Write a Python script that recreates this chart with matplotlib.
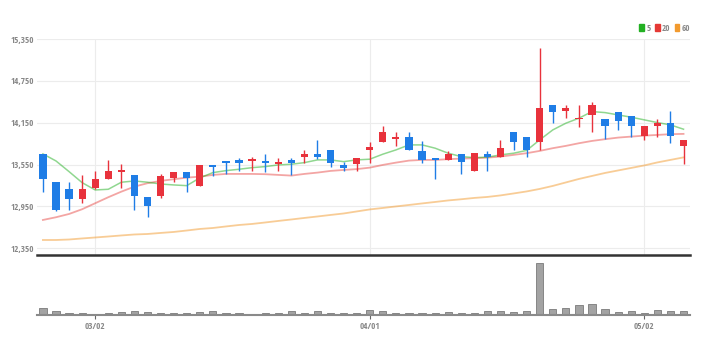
import numpy as np
import matplotlib
matplotlib.use('Agg')
import matplotlib.pyplot as plt
from matplotlib.patches import Patch

# daily candles (index = trading day)
opens  = [13700,13300,13200,13060,13210,13350,13450,13400,13090,13100,
          13360,13450,13250,13550,13600,13610,13600,13600,13560,13610,
          13660,13700,13760,13550,13560,13760,13870,13910,13950,13750,
          13640,13620,13700,13460,13700,13660,14010,13950,13870,14410,
          14320,14200,14260,14210,14310,14250,13960,14110,14150,13810]
closes = [13350,12900,13060,13200,13350,13460,13470,13100,12950,13390,
          13450,13360,13550,13510,13570,13570,13630,13570,13590,13570,
          13700,13660,13570,13500,13650,13800,14010,13950,13760,13610,
          13610,13700,13590,13720,13660,13790,13870,13760,14360,14300,
          14360,14220,14400,14100,14170,14100,14100,14150,13960,13900]
highs  = [13700,13300,13300,13400,13460,13610,13560,13400,13090,13410,
          13450,13450,13550,13550,13600,13650,13660,13700,13650,13650,
          13760,13900,13760,13590,13650,13870,14100,14010,14010,13890,
          13640,13740,13700,13720,13750,13900,14010,13950,15220,14410,
          14410,14410,14450,14210,14310,14250,14100,14200,14320,13900]
lows   = [13150,12890,12900,13000,13200,13350,13210,12900,12800,13070,
          13300,13160,13250,13390,13420,13460,13460,13450,13460,13400,
          13570,13630,13510,13460,13460,13570,13870,13810,13760,13570,
          13350,13620,13410,13460,13460,13660,13760,13660,13760,14150,
          14220,14090,14020,13910,14050,13950,13900,13950,13860,13560]
volumes = [140,86,46,54,34,46,74,94,74,46,
           54,46,74,80,54,54,34,40,46,80,
           54,86,54,46,46,114,86,54,46,46,
           46,60,46,46,94,94,74,80,1054,120,
           154,214,220,120,60,94,46,114,94,86]

ma5  = [13703,13602,13449,13291,13186,13196,13297,13315,13297,13272,
        13258,13248,13359,13435,13463,13483,13506,13521,13545,13555,
        13578,13617,13617,13592,13617,13627,13699,13760,13832,13832,
        13785,13713,13664,13650,13656,13689,13713,13753,13904,14047,
        14143,14215,14310,14295,14262,14229,14191,14152,14119,14057]
ma20 = [12756,12795,12842,12910,12996,13082,13162,13234,13283,13316,
        13340,13363,13377,13402,13416,13416,13416,13412,13402,13392,
        13416,13435,13459,13473,13485,13506,13545,13578,13607,13617,
        13617,13627,13636,13641,13650,13664,13689,13713,13746,13785,
        13818,13856,13889,13914,13937,13951,13965,13975,13986,13990]
ma60 = [12469,12469,12476,12491,12505,12519,12534,12548,12555,12570,
        12584,12605,12627,12641,12663,12684,12699,12720,12742,12763,
        12785,12806,12828,12849,12878,12907,12928,12950,12971,12993,
        13014,13036,13053,13072,13086,13108,13136,13165,13201,13244,
        13294,13344,13387,13430,13466,13502,13538,13581,13617,13653]

ytick_vals = [12350,12950,13550,14150,14750,15350]
xtick_pos = [4,25,46]
xtick_labels = ['03/02','04/01','05/02']

up_col='#e8323c'
down_col='#1f7de6'
ma_cols={'5':'#22b022','20':'#e53935','60':'#f29a2e'}

plt.rcParams['font.family']=['Open Sans Condensed','DejaVu Sans']
plt.rcParams['font.weight']='light'

fig=plt.figure(figsize=(7.04,3.54),dpi=100)
ax1=fig.add_axes([0.0526,0.2797,0.9276,0.6101])
ax2=fig.add_axes([0.0526,0.1088,0.9276,0.1624])

x=np.arange(len(opens))
o=np.array(opens);c=np.array(closes);h=np.array(highs);l=np.array(lows)
cols=np.where(c>=o,up_col,down_col)

# grid
for yv in ytick_vals:
	ax1.axhline(yv,color='#ececec',lw=0.8,zorder=0)
for xv in xtick_pos:
	ax1.axvline(xv,color='#ececec',lw=0.8,zorder=0)

# moving averages
ax1.plot(x,ma60,color=ma_cols['60'],alpha=0.5,lw=1.3,zorder=1)
ax1.plot(x,ma20,color=ma_cols['20'],alpha=0.45,lw=1.3,zorder=1)
ax1.plot(x,ma5,color=ma_cols['5'],alpha=0.5,lw=1.1,zorder=1)

# candles
ax1.vlines(x,l,h,colors=cols,lw=1,zorder=2)
body=np.maximum(np.abs(c-o),18)
ax1.bar(x,body,bottom=np.minimum(o,c),width=0.55,color=cols,zorder=3)

ax1.set_xlim(-0.45,49.5)
ax1.set_ylim(12254,15350)
ax1.set_yticks(ytick_vals)
ax1.set_yticklabels(['{:,}'.format(v) for v in ytick_vals],fontsize=6.5,color='#888888')
ax1.tick_params(axis='y',length=0,pad=2)
ax1.set_xticks([])
for s in ['top','right','left']:
	ax1.spines[s].set_visible(False)
ax1.spines['bottom'].set_color('#333333')
ax1.spines['bottom'].set_linewidth(1.8)

leg=ax1.legend(handles=[Patch(color=ma_cols[k],label=k) for k in ['5','20','60']],
	loc='lower right',bbox_to_anchor=(1.0,1.03),ncol=3,frameon=False,fontsize=6.5,
	handlelength=0.5,handleheight=0.9,handletextpad=0.25,columnspacing=0.5,borderpad=0,borderaxespad=0)
for t in leg.get_texts():
	t.set_color('#888888')

# volume
ax2.bar(x,volumes,width=0.55,color='#a3a3a3',edgecolor='#7a7a7a',lw=0.6)
ax2.set_xlim(-0.45,49.5)
ax2.set_ylim(0,max(volumes)*57.5/52.7)
ax2.set_yticks([])
ax2.set_xticks(xtick_pos)
ax2.set_xticklabels(xtick_labels,fontsize=6.5,color='#888888')
ax2.tick_params(axis='x',length=3,width=0.8,color='#666666',pad=2)
for s in ['top','right','left']:
	ax2.spines[s].set_visible(False)
ax2.spines['bottom'].set_color('#8a8a8a')
ax2.spines['bottom'].set_linewidth(1.5)

plt.savefig('out.png',dpi=100)
